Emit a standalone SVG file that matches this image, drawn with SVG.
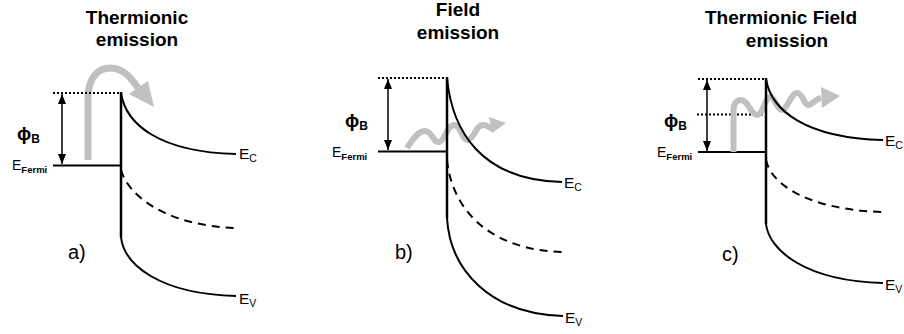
<svg xmlns="http://www.w3.org/2000/svg" width="904" height="334" viewBox="0 0 904 334">
<style>
.title{font-family:"Liberation Sans",Arial,sans-serif;font-weight:bold;font-size:19px;text-anchor:middle;fill:#000}
.lab{font-family:"Liberation Sans",Arial,sans-serif;font-size:20px;fill:#000}
.e{font-family:"Liberation Sans",Arial,sans-serif;font-size:15.5px;fill:#000}
.sub{font-size:10.5px}
.ef{font-family:"Liberation Sans",Arial,sans-serif;font-size:14px;fill:#000}
.fs{font-size:9.5px;font-weight:bold}
.phi{font-family:"Liberation Sans","DejaVu Sans",Arial,sans-serif;font-weight:bold;font-size:19px;fill:#000}
.pb{font-size:12px}
.band{fill:none;stroke:#000;stroke-width:2}
.dash{fill:none;stroke:#000;stroke-width:2;stroke-dasharray:8 6}
.dot{fill:none;stroke:#000;stroke-width:2;stroke-dasharray:2 2}
.wall{fill:none;stroke:#000;stroke-width:2.5}
.dim{fill:none;stroke:#000;stroke-width:1.5;marker-start:url(#ah);marker-end:url(#ah)}
.gray{fill:none;stroke:#c0c0c0;stroke-width:7;stroke-linejoin:round}
.wave{fill:none;stroke:#c0c0c0;stroke-width:6;stroke-linejoin:round}
.head{fill:#c0c0c0}
</style>
<defs>
<marker id="ah" viewBox="0 0 10 8" refX="10" refY="4" markerWidth="10" markerHeight="8" markerUnits="userSpaceOnUse" orient="auto-start-reverse">
<path d="M0,0 L10,4 L0,8 z" fill="#000"/>
</marker>
</defs>

<g id="panel-a">
<text class="title" x="137" y="24">Thermionic</text>
<text class="title" x="137" y="46">emission</text>
<path class="gray" d="M88,160 L88,98 C88,78 98,68 110,68 C122,68 130,76 138,88"/>
<polygon class="head" points="129,94 148,81 154,107"/>
<line class="dot" x1="53" y1="93" x2="120" y2="93"/>
<line class="band" x1="53" y1="165.5" x2="121" y2="165.5"/>
<line class="wall" x1="121" y1="92" x2="121" y2="237"/>
<line class="dim" x1="62" y1="94" x2="62" y2="164"/>
<path class="band" d="M121,93 C126,125 160,152 236,154"/>
<path class="dash" d="M121,170 C128,195 165,226 237,228"/>
<path class="band" d="M121,237 C124,265 160,294 236,296"/>
<text class="e" x="239" y="158.5">E<tspan class="sub" dy="3">C</tspan></text>
<text class="e" x="239" y="304">E<tspan class="sub" dy="3">V</tspan></text>
<text class="ef" x="12" y="170">E<tspan class="fs" dy="3">Fermi</tspan></text>
<text class="phi" x="17" y="140">ϕ<tspan class="pb" dy="3">B</tspan></text>
<text class="lab" x="68" y="258.5">a)</text>
</g>

<g id="panel-b">
<text class="title" x="458" y="16">Field</text>
<text class="title" x="458" y="39">emission</text>
<line class="dot" x1="378" y1="78" x2="446" y2="78"/>
<line class="band" x1="378" y1="151.5" x2="447" y2="151.5"/>
<path class="wave" d="M407,148 C412,140 418,131 425,131 S433,143 439,142 S447,125 454,125 S462,141 468,140 S476,125 483,125 S489,130 493,128"/>
<polygon class="head" points="489,117 506,123 492,133"/>
<line class="wall" x1="447" y1="77" x2="447" y2="218"/>
<line class="dim" x1="388" y1="79" x2="388" y2="150"/>
<path class="band" d="M447,78 C452,130 480,180 562,182"/>
<path class="dash" d="M447,160 C452,210 490,250 562,252"/>
<path class="band" d="M447,218 C450,270 490,314 563,316"/>
<text class="e" x="564" y="188">E<tspan class="sub" dy="3">C</tspan></text>
<text class="e" x="565" y="323">E<tspan class="sub" dy="3">V</tspan></text>
<text class="ef" x="332" y="156.5">E<tspan class="fs" dy="3">Fermi</tspan></text>
<text class="phi" x="345" y="127">ϕ<tspan class="pb" dy="3">B</tspan></text>
<text class="lab" x="395" y="259">b)</text>
</g>

<g id="panel-c">
<text class="title" x="781" y="24">Thermionic Field</text>
<text class="title" x="787" y="47">emission</text>
<line class="dot" x1="698" y1="79" x2="766" y2="79"/>
<line class="dot" x1="697" y1="114.5" x2="766" y2="114.5"/>
<line class="band" x1="698" y1="152" x2="767" y2="152"/>
<path class="wave" d="M733.5,152 L733.5,110 C733.5,103 737,100 741,100 C748,100 751,115 757,115 S765,97 770,97 S777,110 782,110 S791,93 797,93 S804,105 808,105 S815,99 821,98"/>
<polygon class="head" points="821,87 840,96 822,108"/>
<line class="wall" x1="766" y1="78" x2="766" y2="224"/>
<line class="dim" x1="707" y1="80" x2="707" y2="151"/>
<path class="band" d="M766,79 C771,110 805,138 883,140"/>
<path class="dash" d="M766,160 C771,185 810,210 883,212"/>
<path class="band" d="M766,224 C769,250 805,281 883,283"/>
<text class="e" x="885" y="146">E<tspan class="sub" dy="3">C</tspan></text>
<text class="e" x="885" y="290">E<tspan class="sub" dy="3">V</tspan></text>
<text class="ef" x="657" y="157">E<tspan class="fs" dy="3">Fermi</tspan></text>
<text class="phi" x="664" y="127">ϕ<tspan class="pb" dy="3">B</tspan></text>
<text class="lab" x="722" y="261">c)</text>
</g>
</svg>
